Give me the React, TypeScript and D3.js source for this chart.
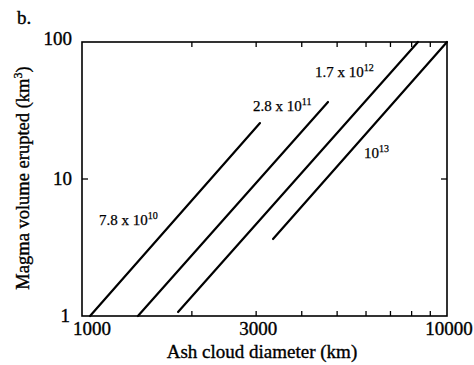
import React from "react";
import * as d3 from "d3";

const xDomain = [1000, 10000];
const yDomain = [1, 100];
const xTickLabels = [1000, 3000, 10000];
const xMinorTicks = [2000, 3000, 4000, 5000, 6000, 7000, 8000, 9000];
const yTickLabels = [1, 10, 100];
const yInnerTicks = [10];

const seriesNames = ["7.8 x 10", "2.8 x 10", "1.7 x 10", "10"];
const seriesExponents = ["10", "11", "12", "13"];
const startDiameter = [1052, 1423, 1833, 3337];
const startVolume = [1, 1, 1.07, 3.65];
const endDiameter = [3074, 4721, 8327, 10000];
const endVolume = [25.6, 36.5, 100, 100];

const FONT = "'Liberation Serif', 'Times New Roman', serif";

export default function App() {
  const left = 82, right = 447, top = 42, bottom = 316;
  const x = d3.scaleLog().domain(xDomain).range([left, right]);
  const y = d3.scaleLog().domain(yDomain).range([bottom, top]);
  const line = d3
    .line<[number, number]>()
    .x((d) => x(d[0]))
    .y((d) => y(d[1]));

  const labelPos = [
    { lx: 99, ly: 225 },
    { lx: 253, ly: 111 },
    { lx: 315, ly: 77 },
    { lx: 364, ly: 158 },
  ];

  const txt = { stroke: "#000", strokeWidth: 0.35 };

  return (
    <svg
      width={474}
      height={365}
      style={{ position: "absolute", left: 0, top: 0, background: "#fff" }}
      fontFamily={FONT}
    >
      <rect x={0} y={0} width={474} height={365} fill="#fff" />
      <text x={17} y={24} fontSize={19} {...txt}>b.</text>
      <rect
        x={left}
        y={top}
        width={right - left}
        height={bottom - top}
        fill="none"
        stroke="#000"
        strokeWidth={1.6}
      />
      {xMinorTicks.map((t) => (
        <g key={"xt" + t}>
          <line x1={x(t)} x2={x(t)} y1={bottom} y2={bottom - 5} stroke="#000" strokeWidth={1.3} />
          <line x1={x(t)} x2={x(t)} y1={top} y2={top + 5} stroke="#000" strokeWidth={1.3} />
        </g>
      ))}
      {yInnerTicks.map((t) => (
        <g key={"yt" + t}>
          <line x1={left} x2={left + 6} y1={y(t)} y2={y(t)} stroke="#000" strokeWidth={1.3} />
          <line x1={right} x2={right - 6} y1={y(t)} y2={y(t)} stroke="#000" strokeWidth={1.3} />
        </g>
      ))}
      {yTickLabels.map((t) => (
        <text
          key={"yl" + t}
          x={t === 1 ? 70 : 72}
          y={y(t) + (t === 100 ? 3 : 6)}
          fontSize={19}
          textAnchor="end"
          {...txt}
        >
          {t}
        </text>
      ))}
      {xTickLabels.map((t) => (
        <text
          key={"xl" + t}
          x={t === 1000 ? x(t) + 10 : x(t) + 2}
          y={335}
          fontSize={19}
          textAnchor="middle"
          {...txt}
        >
          {t}
        </text>
      ))}
      <text x={262} y={358} fontSize={19} textAnchor="middle" {...txt}>
        Ash cloud diameter (km)
      </text>
      <text
        transform="translate(29,178) rotate(-90)"
        fontSize={18.5}
        textAnchor="middle"
        {...txt}
      >
        Magma volume erupted (km<tspan dy={-7} fontSize={12}>3</tspan>
        <tspan dy={7}>)</tspan>
      </text>
      {seriesNames.map((n, i) => (
        <path
          key={"s" + i}
          d={
            line([
              [startDiameter[i], startVolume[i]],
              [endDiameter[i], endVolume[i]],
            ]) || ""
          }
          fill="none"
          stroke="#000"
          strokeWidth={2.2}
          strokeLinecap="round"
        />
      ))}
      {seriesNames.map((n, i) => (
        <text key={"l" + i} x={labelPos[i].lx} y={labelPos[i].ly} fontSize={15} stroke="#000" strokeWidth={0.25}>
          {n}
          <tspan dy={-6} fontSize={10}>
            {seriesExponents[i]}
          </tspan>
        </text>
      ))}
    </svg>
  );
}
